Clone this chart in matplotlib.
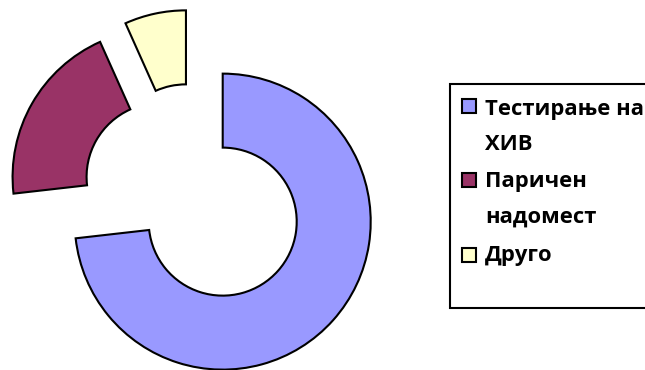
import matplotlib
matplotlib.use("Agg")
import matplotlib.pyplot as plt
from matplotlib.patches import Rectangle

categories = ["Тестирање на\nХИВ", "Паричен\nнадомест", "Друго"]
values = [73.2, 20.1, 6.7]
colors = ["#9999FF", "#993366", "#FFFFCC"]

W, H = 645, 370
fig = plt.figure(figsize=(W / 100, H / 100), dpi=100)
ax = fig.add_axes([0, 0, 1, 1])

R = 148.0
cx, cy = 194.0, 196.0

ax.pie(values, colors=colors, startangle=90, counterclock=False,
       explode=[0.26] * len(values), radius=1.0,
       wedgeprops=dict(width=0.5, edgecolor="black", linewidth=1.5),
       frame=True)
ax.set_xlim(-cx / R, (W - cx) / R)
ax.set_ylim(-(H - cy) / R, cy / R)
ax.set_aspect("auto")
ax.set_axis_off()

def fx(px):
    return px / W
def fy(py):
    return 1 - py / H

# legend box
fig.patches.append(Rectangle((fx(450), fy(308)), fx(700) - fx(450), fy(84) - fy(308),
                             transform=fig.transFigure, facecolor="white",
                             edgecolor="black", linewidth=1.5, zorder=5))

font = ["Open Sans", "DejaVu Sans"]
square_centers = [106, 180, 255]
baselines = [[115, 150], [187, 223], [261]]
for lab, col, yc, bls in zip(categories, colors, square_centers, baselines):
    fig.patches.append(Rectangle((fx(462), fy(yc + 7)), fx(476) - fx(462), fy(yc - 7) - fy(yc + 7),
                                 transform=fig.transFigure, facecolor=col,
                                 edgecolor="black", linewidth=1.5, zorder=6))
    for line, b in zip(lab.split("\n"), bls):
        fig.text(fx(485), fy(b), line, ha="left", va="baseline", fontsize=15.8,
                 fontweight="bold", family=font, zorder=7)

fig.savefig("out.png", dpi=100)
